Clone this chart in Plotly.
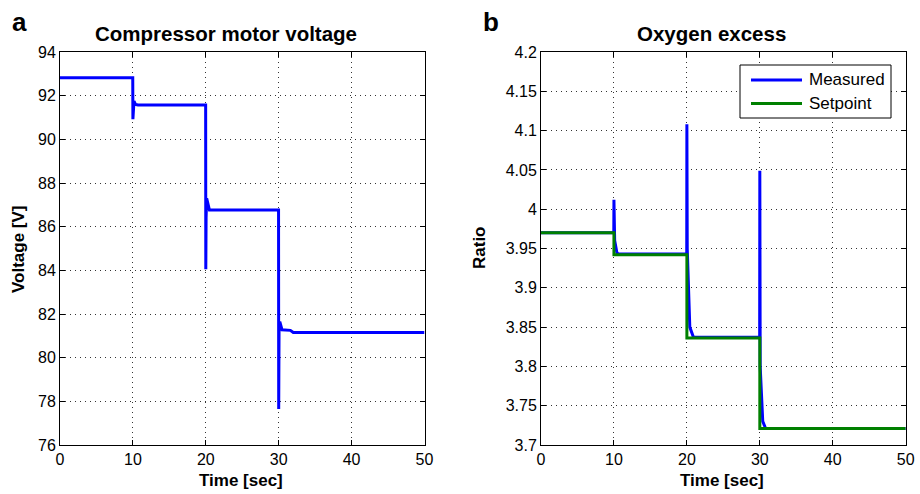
import plotly.graph_objects as go

# ---- Data ----
# Panel a: compressor motor voltage
volt_time = [0, 9.98, 10.0, 10.04, 10.15, 10.35, 10.7, 19.98, 20.0, 20.04, 20.12, 20.5, 29.98, 30.0, 30.05, 30.15, 30.45, 31.6, 32.0, 50]
volt_values = [92.82, 92.82, 90.92, 91.3, 91.75, 91.6, 91.57, 91.57, 84.05, 86.4, 87.3, 86.76, 86.76, 77.65, 81.4, 81.65, 81.28, 81.25, 81.15, 81.15]

# Panel b: oxygen excess ratio
o2_time = [0, 9.98, 10.0, 10.1, 10.4, 10.6, 19.98, 20.0, 20.05, 20.4, 20.9, 29.98, 30.0, 30.05, 30.4, 30.8, 50]
o2_measured = [3.97, 3.97, 4.012, 3.96, 3.945, 3.943, 3.943, 4.108, 3.95, 3.85, 3.837, 3.837, 4.049, 3.80, 3.73, 3.721, 3.721]
sp_time = [0, 10, 10, 20, 20, 30, 30, 50]
o2_setpoint = [3.97, 3.97, 3.942, 3.942, 3.836, 3.836, 3.721, 3.721]

x_ticks = [0, 10, 20, 30, 40, 50]
volt_ticks = [76, 78, 80, 82, 84, 86, 88, 90, 92, 94]
ratio_ticks = [3.7, 3.75, 3.8, 3.85, 3.9, 3.95, 4.0, 4.05, 4.1, 4.15, 4.2]
ratio_tick_labels = ["3.7", "3.75", "3.8", "3.85", "3.9", "3.95", "4", "4.05", "4.1", "4.15", "4.2"]
legend_names = ["Measured", "Setpoint"]
legend_colors = ["#0000ff", "#008000"]

FONT = "Liberation Sans, Arial, Helvetica, sans-serif"
W, H = 920, 494

fig = go.Figure()
fig.add_trace(go.Scatter(x=volt_time, y=volt_values, mode="lines",
                         line=dict(color="#0000ff", width=3), showlegend=False,
                         xaxis="x", yaxis="y"))
fig.add_trace(go.Scatter(x=o2_time, y=o2_measured, mode="lines", name=legend_names[0],
                         line=dict(color=legend_colors[0], width=3), showlegend=False,
                         xaxis="x2", yaxis="y2"))
fig.add_trace(go.Scatter(x=sp_time, y=o2_setpoint, mode="lines", name=legend_names[1],
                         line=dict(color=legend_colors[1], width=3), showlegend=False,
                         xaxis="x2", yaxis="y2"))

def px_x(p):
    return p / W

def px_y(p):
    return 1 - p / H

axis_common = dict(
    showline=True, linecolor="black", linewidth=1, mirror="allticks",
    ticks="inside", ticklen=5, tickcolor="black",
    showgrid=True, gridcolor="#333333", gridwidth=1, griddash="1px,4px",
    zeroline=False, tickfont=dict(family=FONT, size=16, color="black"),
    automargin=False,
)

ydom = [px_y(445), px_y(52)]
fig.update_layout(
    width=W, height=H,
    margin=dict(l=0, r=0, t=0, b=0),
    paper_bgcolor="white", plot_bgcolor="white",
    font=dict(family=FONT, color="black"),
    xaxis=dict(domain=[px_x(60), px_x(424.5)], range=[0, 50], tickvals=x_ticks,
               anchor="y", **axis_common),
    yaxis=dict(domain=ydom, range=[76, 94], tickvals=volt_ticks, anchor="x", **axis_common),
    xaxis2=dict(domain=[px_x(541), px_x(905.7)], range=[0, 50], tickvals=x_ticks,
                anchor="y2", **axis_common),
    yaxis2=dict(domain=ydom, range=[3.7, 4.2], tickvals=ratio_ticks, ticktext=ratio_tick_labels,
                anchor="x2", **axis_common),
    showlegend=False,
)

# Custom legend box (MATLAB style, long line samples)
shapes = [
    dict(type="rect", xref="paper", yref="paper",
         x0=px_x(740), x1=px_x(891), y0=px_y(118), y1=px_y(65),
         line=dict(color="black", width=1), fillcolor="white", layer="above"),
]
annotations = []
for i, (name, col) in enumerate(zip(legend_names, legend_colors)):
    yy = 80 + i * 23.5
    shapes.append(dict(type="line", xref="paper", yref="paper",
                       x0=px_x(751), x1=px_x(802), y0=px_y(yy), y1=px_y(yy),
                       line=dict(color=col, width=3), layer="above"))
    annotations.append(dict(text=name, x=px_x(807), y=px_y(yy), xanchor="left",
                            yanchor="middle", font=dict(size=17)))
fig.update_layout(shapes=shapes)

annotations += [
    dict(text="<b>a</b>", x=px_x(10), y=px_y(22), xanchor="left", yanchor="middle",
         font=dict(size=26)),
    dict(text="<b>b</b>", x=px_x(481), y=px_y(22), xanchor="left", yanchor="middle",
         font=dict(size=26)),
    dict(text="<b>Compressor motor voltage</b>", x=px_x(226), y=px_y(33),
         xanchor="center", yanchor="middle", font=dict(size=20.5)),
    dict(text="<b>Oxygen excess</b>", x=px_x(711), y=px_y(33),
         xanchor="center", yanchor="middle", font=dict(size=20.5)),
    dict(text="<b>Time [sec]</b>", x=px_x(241), y=px_y(480),
         xanchor="center", yanchor="middle", font=dict(size=17)),
    dict(text="<b>Time [sec]</b>", x=px_x(722), y=px_y(480),
         xanchor="center", yanchor="middle", font=dict(size=17)),
    dict(text="<b>Voltage [V]</b>", x=px_x(18), y=px_y(249), textangle=-90,
         xanchor="center", yanchor="middle", font=dict(size=17)),
    dict(text="<b>Ratio</b>", x=px_x(480), y=px_y(248), textangle=-90,
         xanchor="center", yanchor="middle", font=dict(size=17)),
]
for a in annotations:
    a.update(xref="paper", yref="paper", showarrow=False)
fig.update_layout(annotations=annotations)

fig.write_html("out.html", config={"displayModeBar": False},
               post_script="document.body.style.margin='0';document.body.style.overflow='hidden';")
